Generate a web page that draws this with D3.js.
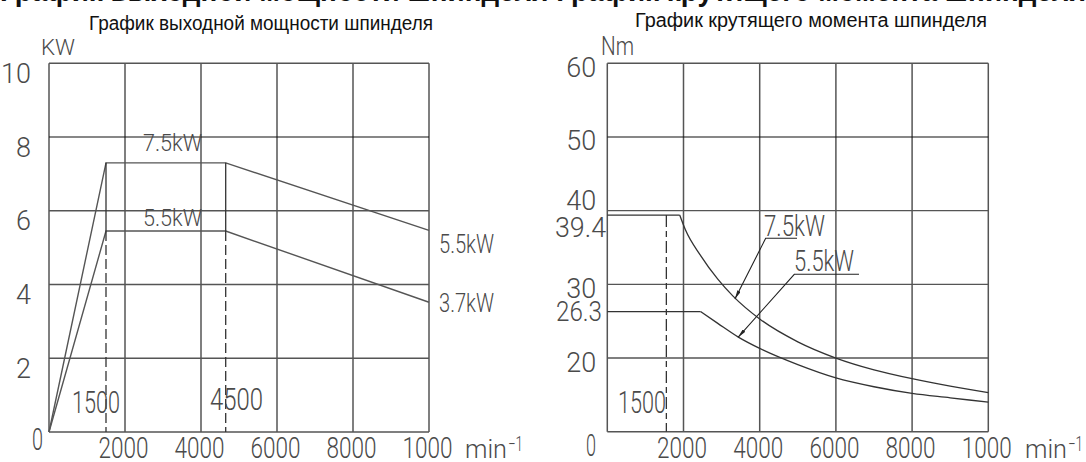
<!DOCTYPE html>
<html>
<head>
<meta charset="utf-8">
<script src="https://cdn.jsdelivr.net/npm/d3@7"></script>
<style>
    body { margin: 0; background: #fff; }
    .cad { font-family: Roboto, 'Liberation Sans', sans-serif; font-weight: 300; fill: #4a4a4a; }
    .title { font-family: 'Liberation Sans', Arial, sans-serif; fill: #111; }
</style>
</head>
<body>
<div class="js-chart"></div>
<script>
'use strict';

// shared x axis (min^-1)
const rpmTicks = [2000, 4000, 6000, 8000, 10000];
const rpmTickLabels = ['2000', '4000', '6000', '8000', '1000'];

// power chart
const powerRpm = [0, 1500, 4650, 10000];
const power75 = [0, 7.3, 7.3, 5.47];
const power55 = [0, 5.45, 5.45, 3.52];
const powerTicks = [2, 4, 6, 8, 10];

// torque chart (first two points = constant torque part)
const torque75Rpm = [0, 1900, 2050, 2450, 2900, 3300, 4000, 5000, 6000, 7000, 8000, 9000, 10000];
const torque75 = [39.4, 39.4, 37.4, 33.9, 30.7, 28.4, 25.3, 22.2, 20.0, 18.4, 17.2, 16.2, 15.3];
const torque55Rpm = [0, 2450, 2900, 3450, 4000, 5000, 6000, 7000, 8000, 9000, 10000];
const torque55 = [26.3, 26.3, 24.7, 22.8, 21.3, 19.1, 17.3, 16.1, 15.2, 14.6, 14.0];
const torqueTicks = [20, 30, 40, 50, 60];

const titles = ['График выходной мощности шпинделя', 'График крутящего момента шпинделя'];

const width = 1086;
const height = 462;

const svg = d3.select('.js-chart')
    .append('svg')
    .attr('width', width)
    .attr('height', height);

svg.append('defs').append('marker')
    .attr('id', 'arrow')
    .attr('viewBox', '0 0 10 4')
    .attr('refX', 10)
    .attr('refY', 2)
    .attr('markerUnits', 'userSpaceOnUse')
    .attr('markerWidth', 9)
    .attr('markerHeight', 3.6)
    .attr('orient', 'auto')
    .append('path')
    .attr('d', 'M0,0 L10,2 L0,4 Z')
    .attr('fill', '#222');

// cropped heading at the very top
svg.append('text')
    .attr('class', 'title')
    .attr('x', 0)
    .attr('y', 0.5)
    .attr('font-size', 30)
    .attr('font-weight', 'bold')
    .attr('textLength', width)
    .attr('lengthAdjust', 'spacingAndGlyphs')
    .text('График выходной мощности шпинделя График крутящего момента шпинделя');

// scales
const xP = d3.scaleLinear().domain([0, 10000]).range([49, 429]);
const yP = d3.scaleLinear().domain([0, 10]).range([432, 63.3]);
const xT = d3.scaleLinear().domain([0, 10000]).range([607.3, 988.3]);
const yT = d3.scaleLinear().domain([10, 60]).range([431.7, 63.3]);

const label = (g, txt, x, y, size, len, anchor) => {
    const t = g.append('text')
        .attr('class', 'cad')
        .attr('x', x)
        .attr('y', y)
        .attr('font-size', size)
        .attr('text-anchor', anchor || 'start')
        .text(txt);
    if (len) t.attr('textLength', len).attr('lengthAdjust', 'spacingAndGlyphs');
    return t;
};

// grid + frame + axes for one chart
const drawFrame = (x, y, yTicks, yMin, yMax, yDy, yPad) => {
    const g = svg.append('g');

    g.selectAll('.vgrid')
        .data([0, ...rpmTicks])
        .join('line')
        .attr('x1', d => x(d)).attr('x2', d => x(d))
        .attr('y1', y(yMin)).attr('y2', y(yMax))
        .attr('stroke', '#555')
        .attr('stroke-width', 1.5);

    g.selectAll('.hgrid')
        .data([yMin, ...yTicks])
        .join('line')
        .attr('x1', x(0)).attr('x2', x(10000))
        .attr('y1', d => y(d)).attr('y2', d => y(d))
        .attr('stroke', (d, i) => i === 4 ? '#111' : '#555')
        .attr('stroke-width', (d, i) => i === 4 ? 1.1 : 1.4);

    // x axis labels
    const xAxis = d3.axisBottom(x)
        .tickValues(rpmTicks)
        .tickSize(0)
        .tickFormat((d, i) => rpmTickLabels[i]);
    const xg = g.append('g')
        .attr('transform', `translate(0, ${y(yMin)})`)
        .call(xAxis);
    xg.select('.domain').remove();
    xg.selectAll('text')
        .attr('class', 'cad')
        .attr('font-size', 30)
        .attr('x', -2)
        .attr('y', 0)
        .attr('dy', 26)
        .attr('textLength', 50)
        .attr('lengthAdjust', 'spacingAndGlyphs');

    // y axis labels
    const yAxis = d3.axisLeft(y)
        .tickValues(yTicks)
        .tickSize(0)
        .tickPadding(yPad);
    const yg = g.append('g')
        .attr('transform', `translate(${x(0)}, 0)`)
        .call(yAxis);
    yg.select('.domain').remove();
    yg.selectAll('text')
        .attr('class', 'cad')
        .attr('font-size', 27)
        .attr('dy', yDy);

    return g;
};

const lineOf = (x, y, curve) => d3.line()
    .x(d => x(d[0]))
    .y(d => y(d[1]))
    .curve(curve || d3.curveLinear);

// ---------- power chart ----------
const gP = drawFrame(xP, yP, powerTicks, 0, 10, 19, 18);

gP.selectAll('.curve')
    .data([d3.zip(powerRpm, power75), d3.zip(powerRpm, power55)])
    .join('path')
    .attr('d', lineOf(xP, yP))
    .attr('fill', 'none')
    .attr('stroke', '#555')
    .attr('stroke-width', 1.4);

// verticals at corner speeds
[powerRpm[1], powerRpm[2]].forEach(r => {
    gP.append('line')
        .attr('x1', xP(r)).attr('x2', xP(r))
        .attr('y1', yP(power75[1])).attr('y2', yP(power55[1]))
        .attr('stroke', '#333').attr('stroke-width', 1.3);
    gP.append('line')
        .attr('x1', xP(r)).attr('x2', xP(r))
        .attr('y1', yP(power55[1])).attr('y2', yP(0))
        .attr('stroke', '#333').attr('stroke-width', 1.3)
        .attr('stroke-dasharray', '10,4');
});

svg.append('text').attr('class', 'title')
    .attr('x', 89).attr('y', 30)
    .attr('font-size', 20)
    .attr('textLength', 344).attr('lengthAdjust', 'spacingAndGlyphs')
    .text(titles[0]);

label(gP, 'KW', 41, 55, 22, 34);
label(gP, '7.5kW', 143, 151, 23, 59);
label(gP, '5.5kW', 143, 226, 23, 59);
label(gP, '5.5kW', 439, 253, 25, 55);
label(gP, '3.7kW', 439, 312, 26, 55);
label(gP, '1500', 72, 413, 32, 48);
label(gP, '4500', 210, 410, 32, 53);
label(gP, '0', 32, 450, 32, 11);
label(gP, 'min', 465, 458, 25, 42);
label(gP, '−1', 508, 451, 20, 15);

// ---------- torque chart ----------
const gT = drawFrame(xT, yT, torqueTicks, 10, 60, d => d === 40 ? -1 : 13, 11);

// constant part straight, falling part smooth
[[torque75Rpm, torque75], [torque55Rpm, torque55]].forEach(([rpm, tq]) => {
    const pts = d3.zip(rpm, tq);
    gT.append('path')
        .attr('d', lineOf(xT, yT)(pts.slice(0, 2)))
        .attr('fill', 'none')
        .attr('stroke', '#333')
        .attr('stroke-width', 1.3);
    gT.append('path')
        .attr('d', lineOf(xT, yT, d3.curveMonotoneX)(pts.slice(1)))
        .attr('fill', 'none')
        .attr('stroke', '#333')
        .attr('stroke-width', 1.3);
});

// base speed marker
gT.append('line')
    .attr('x1', xT(1550)).attr('x2', xT(1550))
    .attr('y1', yT(torque75[0])).attr('y2', yT(10))
    .attr('stroke', '#333').attr('stroke-width', 1.3)
    .attr('stroke-dasharray', '12,4,6,4');

// leaders: [underline end, underline start, arrow tip] in rpm / Nm
const leader75 = [[4980, 36.25], [4157, 36.25], [3350, 28.0]];
const leader55 = [[6606, 31.36], [4908, 31.36], [3430, 22.8]];
[leader75, leader55].forEach(pts => {
    gT.append('path')
        .attr('d', lineOf(xT, yT)(pts))
        .attr('fill', 'none')
        .attr('stroke', '#222')
        .attr('stroke-width', 1.1)
        .attr('marker-end', 'url(#arrow)');
});

svg.append('text').attr('class', 'title')
    .attr('x', 635).attr('y', 27)
    .attr('font-size', 20)
    .attr('textLength', 352).attr('lengthAdjust', 'spacingAndGlyphs')
    .text(titles[1]);

label(gT, 'Nm', 601, 55, 25, 33);
label(gT, '39.4', 555, 237, 27, 51);
label(gT, '26.3', 556, 321, 27, 46);
label(gT, '7.5kW', 764, 236, 30, 61);
label(gT, '5.5kW', 794, 271, 30, 60);
label(gT, '1500', 618, 413, 32, 48);
label(gT, '0', 586, 456, 32, 10);
label(gT, 'min', 1025, 458, 25, 42);
label(gT, '−1', 1068, 451, 20, 15);
</script>
</body>
</html>
